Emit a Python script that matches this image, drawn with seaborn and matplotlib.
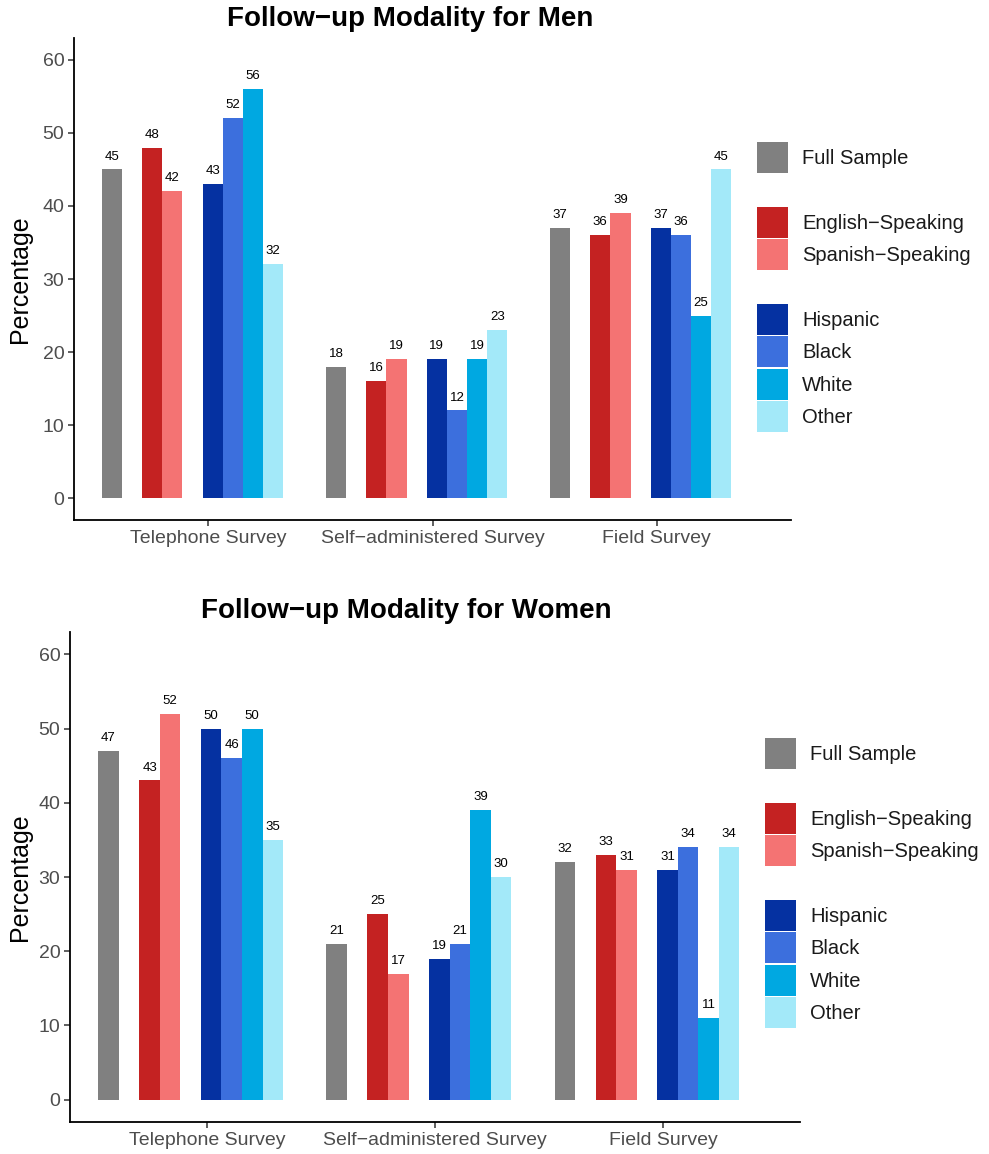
import numpy as np
import pandas as pd
import matplotlib
matplotlib.use("Agg")
import matplotlib.pyplot as plt
from matplotlib.patches import Patch
import seaborn as sns

# Datos (porcentajes)
modalities = ["Telephone Survey", "Self\u2212administered Survey", "Field Survey"]
groups = ["Full Sample", "English\u2212Speaking", "Spanish\u2212Speaking",
          "Hispanic", "Black", "White", "Other"]

men_full = [45, 18, 37]
men_english = [48, 16, 36]
men_spanish = [42, 19, 39]
men_hispanic = [43, 19, 37]
men_black = [52, 12, 36]
men_white = [56, 19, 25]
men_other = [32, 23, 45]

women_full = [47, 21, 32]
women_english = [43, 25, 33]
women_spanish = [52, 17, 31]
women_hispanic = [50, 19, 31]
women_black = [46, 21, 34]
women_white = [50, 39, 11]
women_other = [35, 30, 34]

colors = ["#808080", "#C42222", "#F47373", "#0531A1", "#3C6FDD", "#00A8E1", "#A3E9F9"]

# huecos entre bloques de barras
hue_order = [groups[0], " ", groups[1], groups[2], "  ", groups[3], groups[4], groups[5], groups[6]]
palette = dict(zip(groups, colors))
palette[" "] = "white"
palette["  "] = "white"


def build_df(series):
    rows = []
    for g, vals in zip(groups, series):
        for m, v in zip(modalities, vals):
            rows.append({"modality": m, "group": g, "value": v})
    return pd.DataFrame(rows)


df_men = build_df([men_full, men_english, men_spanish, men_hispanic,
                   men_black, men_white, men_other])
df_women = build_df([women_full, women_english, women_spanish, women_hispanic,
                     women_black, women_white, women_other])

sns.set_theme(style="white")
plt.rcParams["font.family"] = ["Liberation Sans", "DejaVu Sans"]

fig = plt.figure(figsize=(9.89, 11.54), dpi=100)
W, H = 989, 1154

panels = [
    (df_men, "Follow\u2212up Modality for Men", (74, 38, 791, 520), 410, 19, (757, 142)),
    (df_women, "Follow\u2212up Modality for Women", (70, 632, 800, 1122), 406, 611, (765, 738)),
]

for df, title, (x0, y0, x1, y1), tx, ty, (lx, ly) in panels:
    ax = fig.add_axes([x0 / W, 1 - y1 / H, (x1 - x0) / W, (y1 - y0) / H])
    sns.barplot(data=df, x="modality", y="value", hue="group", hue_order=hue_order,
                order=modalities, palette=palette, saturation=1, width=0.81,
                legend=False, ax=ax, errorbar=None, linewidth=0, edgecolor="none")
    for c in ax.containers:
        ax.bar_label(c, fmt="%g", padding=5, fontsize=9.5, color="black")

    ax.set_ylim(-3, 63)
    ax.set_yticks([0, 10, 20, 30, 40, 50, 60])
    ax.set_xlim(-0.529, 2.671)
    ax.set_xticks(np.arange(3) + 0.071)
    ax.set_xticklabels(modalities)
    ax.set_xlabel("")
    ax.set_ylabel("")
    sns.despine(ax=ax)
    for s in ["left", "bottom"]:
        ax.spines[s].set_linewidth(1.3)
        ax.spines[s].set_color("black")
    ax.tick_params(axis="both", which="both", length=4, width=1.1, color="#333333",
                   labelsize=14, labelcolor="#4D4D4D", pad=3, bottom=True, left=True)

    fig.text(tx / W, 1 - ty / H, title, ha="center", va="center",
             fontsize=20, fontweight="bold", color="black")
    fig.text(20 / W, 1 - ((y0 + y1) / 2) / H, "Percentage", rotation=90,
             ha="center", va="center", fontsize=18, color="black")

    handles = [Patch(facecolor=palette[g] if g.strip() else "none", edgecolor="none")
               for g in hue_order]
    labels = [g if g.strip() else "" for g in hue_order]
    leg = ax.legend(handles=handles, labels=labels, loc="upper left",
                    bbox_to_anchor=(lx / W, 1 - ly / H), bbox_transform=fig.transFigure,
                    frameon=False, borderpad=0, borderaxespad=0, fontsize=14.5,
                    handlelength=1.55, handleheight=1.99, labelspacing=0.07,
                    handletextpad=0.7)
    for t in leg.get_texts():
        t.set_color("#1A1A1A")

fig.savefig("out.png", dpi=100)
